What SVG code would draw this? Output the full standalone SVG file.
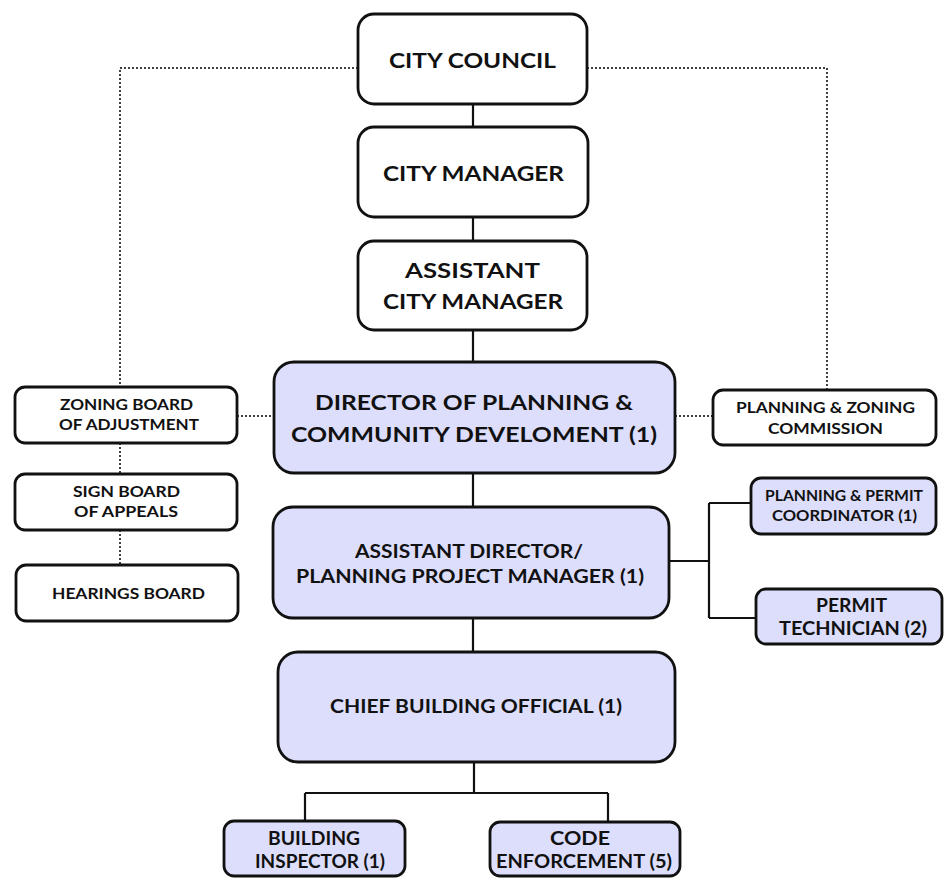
<svg xmlns="http://www.w3.org/2000/svg" width="944" height="878" viewBox="0 0 944 878">
<style>
  .box { fill: #ffffff; stroke: #111111; stroke-width: 2.8; }
  .blue { fill: #dcdefc; }
  .t { font-family: Lato, "Open Sans", "Liberation Sans", sans-serif; font-weight: 700; fill: #111111; text-anchor: middle; }
  .t21 { font-size: 21px; }
  .t18 { font-size: 18px; }
  .t15 { font-size: 15px; }
  .solid { fill: none; stroke: #111111; stroke-width: 2.2; }
  .dot { fill: none; stroke: #000000; stroke-width: 1.5; stroke-dasharray: 2 2; }
</style>
<rect width="944" height="878" fill="#ffffff"/>
<g id="connectors">
  <path class="solid" d="M473 104V127M473 217V241M473 330V362M473 473V507M473 618V652M474 762V793M305 793H608M305 793V821M608 793V822M669 561H709M709 503V618M709 503H751M709 618H756"/>
  <path class="dot" d="M358 68H120V387M587 68H827V390M237 416H274M675 416H713M120 443V474M120 530V565"/>
</g>
<g id="city-council">
  <rect class="box" x="358" y="14" width="229" height="90" rx="16"/>
  <text class="t t21" x="472.5" y="68" textLength="167" lengthAdjust="spacingAndGlyphs">CITY COUNCIL</text>
</g>
<g id="city-manager">
  <rect class="box" x="358" y="127" width="230" height="90" rx="16"/>
  <text class="t t21" x="473.5" y="181" textLength="181" lengthAdjust="spacingAndGlyphs">CITY MANAGER</text>
</g>
<g id="assistant-city-manager">
  <rect class="box" x="358" y="241" width="229" height="89" rx="16"/>
  <text class="t t21" x="472.5" y="278" textLength="135" lengthAdjust="spacingAndGlyphs">ASSISTANT</text>
  <text class="t t21" x="473" y="309" textLength="180" lengthAdjust="spacingAndGlyphs">CITY MANAGER</text>
</g>
<g id="director">
  <rect class="box blue" x="274" y="362" width="401" height="111" rx="20"/>
  <text class="t t21" x="474" y="410" textLength="318" lengthAdjust="spacingAndGlyphs">DIRECTOR OF PLANNING &amp;</text>
  <text class="t t21" x="474" y="442" textLength="366" lengthAdjust="spacingAndGlyphs">COMMUNITY DEVELOMENT (1)</text>
</g>
<g id="zoning-board">
  <rect class="box" x="15" y="387" width="222" height="56" rx="10"/>
  <text class="t t15" x="126.5" y="410" textLength="133" lengthAdjust="spacingAndGlyphs">ZONING BOARD</text>
  <text class="t t15" x="129" y="430" textLength="140" lengthAdjust="spacingAndGlyphs">OF ADJUSTMENT</text>
</g>
<g id="sign-board">
  <rect class="box" x="15" y="474" width="222" height="56" rx="10"/>
  <text class="t t15" x="126.5" y="497" textLength="107" lengthAdjust="spacingAndGlyphs">SIGN BOARD</text>
  <text class="t t15" x="126" y="517" textLength="104" lengthAdjust="spacingAndGlyphs">OF APPEALS</text>
</g>
<g id="hearings-board">
  <rect class="box" x="16" y="565" width="222" height="56" rx="10"/>
  <text class="t t15" x="128.5" y="599" textLength="153" lengthAdjust="spacingAndGlyphs">HEARINGS BOARD</text>
</g>
<g id="planning-zoning-commission">
  <rect class="box" x="713" y="390" width="223" height="55" rx="10"/>
  <text class="t t15" x="825.5" y="413" textLength="179" lengthAdjust="spacingAndGlyphs">PLANNING &amp; ZONING</text>
  <text class="t t15" x="825.5" y="434" textLength="115" lengthAdjust="spacingAndGlyphs">COMMISSION</text>
</g>
<g id="assistant-director">
  <rect class="box blue" x="273" y="507" width="396" height="111" rx="20"/>
  <text class="t t18" x="469" y="558" textLength="228" lengthAdjust="spacingAndGlyphs">ASSISTANT DIRECTOR/</text>
  <text class="t t18" x="470" y="583" textLength="348" lengthAdjust="spacingAndGlyphs">PLANNING PROJECT MANAGER (1)</text>
</g>
<g id="planning-permit-coordinator">
  <rect class="box blue" x="751" y="478" width="185" height="56" rx="10"/>
  <text class="t t15" x="844" y="501" textLength="158" lengthAdjust="spacingAndGlyphs">PLANNING &amp; PERMIT</text>
  <text class="t t15" x="844.5" y="521" textLength="145" lengthAdjust="spacingAndGlyphs">COORDINATOR (1)</text>
</g>
<g id="permit-technician">
  <rect class="box blue" x="756" y="589" width="186" height="55" rx="10"/>
  <text class="t t18" x="851.5" y="612" textLength="71" lengthAdjust="spacingAndGlyphs">PERMIT</text>
  <text class="t t18" x="853" y="635" textLength="148" lengthAdjust="spacingAndGlyphs">TECHNICIAN (2)</text>
</g>
<g id="chief-building-official">
  <rect class="box blue" x="278" y="652" width="397" height="110" rx="20"/>
  <text class="t t18" x="476" y="713" textLength="292" lengthAdjust="spacingAndGlyphs">CHIEF BUILDING OFFICIAL (1)</text>
</g>
<g id="building-inspector">
  <rect class="box blue" x="224" y="821" width="181" height="55" rx="10"/>
  <text class="t t18" x="314" y="845" textLength="92" lengthAdjust="spacingAndGlyphs">BUILDING</text>
  <text class="t t18" x="320" y="868" textLength="130" lengthAdjust="spacingAndGlyphs">INSPECTOR (1)</text>
</g>
<g id="code-enforcement">
  <rect class="box blue" x="490" y="822" width="190" height="54" rx="10"/>
  <text class="t t18" x="580" y="845" textLength="60" lengthAdjust="spacingAndGlyphs">CODE</text>
  <text class="t t18" x="584" y="868" textLength="176" lengthAdjust="spacingAndGlyphs">ENFORCEMENT (5)</text>
</g>
</svg>
